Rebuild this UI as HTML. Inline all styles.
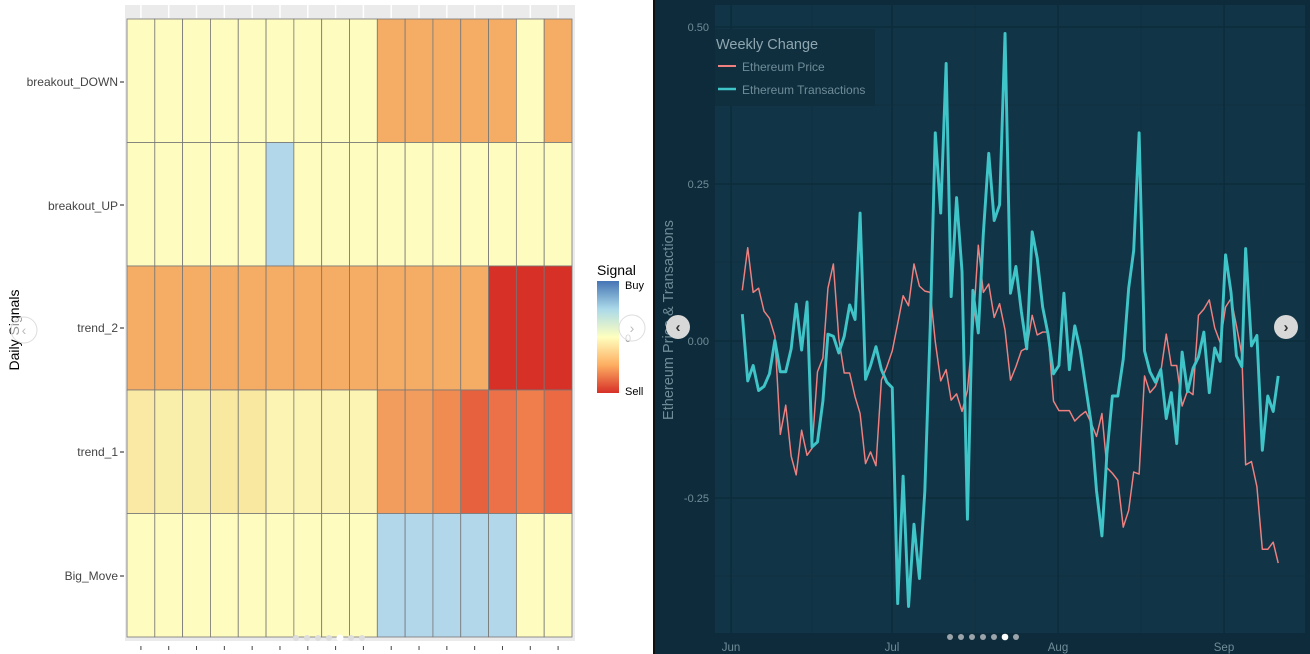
<!DOCTYPE html>
<html><head><meta charset="utf-8"><style>
html,body{margin:0;padding:0;width:1310px;height:654px;overflow:hidden;background:#fff;font-family:"Liberation Sans",sans-serif}
</style></head><body>
<svg width="1310" height="654" viewBox="0 0 1310 654" xmlns="http://www.w3.org/2000/svg" style="position:absolute;left:0;top:0">
<defs>
<linearGradient id="lg" x1="0" y1="0" x2="0" y2="1">
<stop offset="0" stop-color="#4575b4"/><stop offset="0.25" stop-color="#abd9e9"/><stop offset="0.5" stop-color="#ffffbf"/><stop offset="0.75" stop-color="#fdae61"/><stop offset="1" stop-color="#d73027"/>
</linearGradient>
</defs>
<rect x="0" y="0" width="655" height="654" fill="#fff"/>
<rect x="125" y="5" width="450" height="636" fill="#ebebeb"/>
<g id="hm" stroke="#777" stroke-width="0.8"></g>
<g font-size="12" fill="#444" text-anchor="end">
<text x="118" y="86">breakout_DOWN</text>
<text x="118" y="210">breakout_UP</text>
<text x="118" y="332">trend_2</text>
<text x="118" y="456">trend_1</text>
<text x="118" y="580">Big_Move</text>
</g>
<g stroke="#444" stroke-width="1.2">
<line x1="120" y1="82" x2="124" y2="82"/><line x1="120" y1="205" x2="124" y2="205"/><line x1="120" y1="328" x2="124" y2="328"/><line x1="120" y1="452" x2="124" y2="452"/><line x1="120" y1="576" x2="124" y2="576"/>
</g>
<g id="bt" stroke="#444" stroke-width="1"></g>
<text transform="translate(19,330) rotate(-90)" font-size="14" fill="#000" text-anchor="middle">Daily Signals</text>
<text x="597" y="275" font-size="14" fill="#000">Signal</text>
<rect x="597" y="281" width="22" height="112" fill="url(#lg)"/>
<text x="625" y="289" font-size="11" fill="#000">Buy</text>
<text x="625" y="342" font-size="11" fill="#999">0</text>
<text x="625" y="395" font-size="11" fill="#000">Sell</text>
<circle cx="24" cy="330" r="13" fill="#fff" fill-opacity="0.6" stroke="#ddd"/>
<text x="24" y="335" font-size="14" fill="#bbb" text-anchor="middle">‹</text>
<circle cx="632" cy="328" r="13" fill="#fff" fill-opacity="0.6" stroke="#ddd"/>
<text x="632" y="333" font-size="14" fill="#bbb" text-anchor="middle">›</text>
<g fill="#ddd"><circle cx="296" cy="638" r="3"/><circle cx="307" cy="638" r="3"/><circle cx="318" cy="638" r="3"/><circle cx="329" cy="638" r="3"/><circle cx="351" cy="638" r="3"/><circle cx="362" cy="638" r="3"/></g>
<circle cx="340" cy="638" r="3.5" fill="#fff"/>

<rect x="653" y="0" width="2" height="654" fill="#111"/>
<rect x="655" y="0" width="655" height="654" fill="#0d2b3a"/>
<rect x="715" y="5" width="590" height="628" fill="#113546"/>
<g stroke="#0f3040" stroke-width="1">
<line x1="715" y1="105" x2="1305" y2="105"/><line x1="715" y1="262" x2="1305" y2="262"/><line x1="715" y1="419" x2="1305" y2="419"/><line x1="715" y1="576" x2="1305" y2="576"/>
<line x1="812" y1="5" x2="812" y2="633"/><line x1="975" y1="5" x2="975" y2="633"/><line x1="1141" y1="5" x2="1141" y2="633"/>
</g>
<g stroke="#0d2d3c" stroke-width="1.8">
<line x1="715" y1="27" x2="1305" y2="27"/><line x1="715" y1="184" x2="1305" y2="184"/><line x1="715" y1="341" x2="1305" y2="341"/><line x1="715" y1="498" x2="1305" y2="498"/>
<line x1="731" y1="5" x2="731" y2="633"/><line x1="892" y1="5" x2="892" y2="633"/><line x1="1058" y1="5" x2="1058" y2="633"/><line x1="1224" y1="5" x2="1224" y2="633"/>
</g>
<g font-size="11" fill="#6f8c98" text-anchor="end">
<text x="709" y="31">0.50</text><text x="709" y="188">0.25</text><text x="709" y="345">0.00</text><text x="709" y="502">-0.25</text>
</g>
<g font-size="11.5" fill="#6f8c98" text-anchor="middle">
<text x="731" y="651">Jun</text><text x="892" y="651">Jul</text><text x="1058" y="651">Aug</text><text x="1224" y="651">Sep</text>
</g>
<text transform="translate(673,320) rotate(-90)" font-size="14.5" fill="#6f8c98" text-anchor="middle">Ethereum Price &amp; Transactions</text>
<rect x="715" y="29" width="160" height="77" fill="#0f2f3f"/>
<text x="716" y="49" font-size="14.5" fill="#8fa6b0">Weekly Change</text>
<line x1="718" y1="66" x2="736" y2="66" stroke="#f08080" stroke-width="2"/>
<text x="742" y="71" font-size="12" fill="#6f8c98">Ethereum Price</text>
<line x1="718" y1="89" x2="736" y2="89" stroke="#3fc4c8" stroke-width="2.5"/>
<text x="742" y="94" font-size="12" fill="#6f8c98">Ethereum Transactions</text>
<g transform="translate(655,0) scale(0.4177)" fill="none" stroke-linejoin="round">
<polyline stroke="#f08080" stroke-width="3.5" points="209,695 222,593 235,700 248,690 261,745 274,762 287,805 300,1040 313,970 326,1092 338,1137 351,1030 364,1090 376,1073 389,890 402,857 414,690 427,632 440,810 453,893 466,893 479,950 491,990 504,1110 516,1082 529,1115 542,910 555,878 568,840 581,775 594,708 607,732 620,632 633,685 646,697 659,700 671,818 684,912 697,885 709,958 722,943 735,985 748,935 761,790 774,587 786,700 799,680 812,760 825,727 838,790 851,910 864,878 877,840 890,833 903,755 915,802 928,795 941,795 954,960 967,983 979,983 992,983 1005,1008 1018,995 1031,985 1044,1012 1057,1045 1070,990 1082,1120 1095,1133 1108,1150 1121,1262 1134,1222 1146,1130 1159,1135 1172,900 1185,940 1198,925 1211,890 1224,800 1236,875 1249,875 1262,972 1275,935 1288,945 1301,755 1314,740 1327,718 1340,785 1353,820 1366,735 1379,715 1392,780 1405,850 1414,1113 1428,1105 1441,1165 1454,1315 1467,1315 1480,1298 1492,1348"/>
<polyline stroke="#3fc4c8" stroke-width="7" points="209,752 222,912 235,875 248,935 261,925 274,895 287,815 300,890 313,890 326,835 338,728 351,838 364,723 376,1070 389,1058 402,960 414,800 427,805 440,845 453,805 466,730 479,765 491,510 504,908 516,875 529,830 542,885 555,915 568,928 581,1445 594,1140 607,1452 620,1255 633,1385 646,1175 659,780 671,318 684,510 697,152 709,710 722,473 735,650 748,1243 761,695 774,797 786,560 799,367 812,528 825,490 838,80 851,702 864,638 877,745 890,835 903,555 915,618 928,735 941,800 954,895 967,875 979,702 992,885 1005,780 1018,838 1031,925 1044,1012 1057,1175 1070,1283 1082,1085 1095,948 1108,948 1121,860 1134,690 1146,600 1159,318 1172,840 1185,890 1198,915 1211,885 1224,1002 1236,940 1249,1062 1262,843 1275,938 1288,882 1301,855 1314,795 1327,940 1340,833 1353,865 1366,610 1379,700 1392,852 1405,878 1414,595 1428,828 1441,803 1454,1078 1467,948 1480,985 1492,900"/>
</g>
<circle cx="678" cy="327" r="12" fill="#d8d8d8"/>
<text x="678" y="332" font-size="15" font-weight="bold" fill="#333" text-anchor="middle">‹</text>
<circle cx="1286" cy="327" r="12" fill="#d8d8d8"/>
<text x="1286" y="332" font-size="15" font-weight="bold" fill="#333" text-anchor="middle">›</text>
<g fill="#9aa4aa"><circle cx="950" cy="637" r="3"/><circle cx="961" cy="637" r="3"/><circle cx="972" cy="637" r="3"/><circle cx="983" cy="637" r="3"/><circle cx="994" cy="637" r="3"/><circle cx="1016" cy="637" r="3"/></g>
<circle cx="1005" cy="637" r="3.3" fill="#fff"/>
</svg>
<script>
(function(){
var Y="#fefcbf",O="#f5ad66",B="#b3d7ea",R="#d73027";
var rows=[
[Y,Y,Y,Y,Y,Y,Y,Y,Y,O,O,O,O,O,Y,O],
[Y,Y,Y,Y,Y,B,Y,Y,Y,Y,Y,Y,Y,Y,Y,Y],
[O,O,O,O,O,O,O,O,O,O,O,O,O,R,R,R],
["#f9e9a4","#faefaa","#faefaa","#f9e8a0","#f9e8a0","#fcf4b3","#fcf4b3","#fcf4b3","#fcf4b3","#f29d5e","#f29d5e","#f08b52","#e8613f","#ec7048","#ef7e4c","#eb6a44"],
[Y,Y,Y,Y,Y,Y,Y,Y,Y,B,B,B,B,B,Y,Y]];
var ys=[19,142.5,266,390,513.5,637];
var x0=127,w=(572-127)/16;
var g=document.getElementById('hm'),s="";
for(var c=0;c<16;c++){var cx=x0+w*c+w/2;s+='<line x1="'+cx+'" y1="5" x2="'+cx+'" y2="18" stroke="#fff" stroke-width="1.5"/>';}
for(var r=0;r<5;r++)for(var c=0;c<16;c++){s+='<rect x="'+(x0+w*c)+'" y="'+ys[r]+'" width="'+w+'" height="'+(ys[r+1]-ys[r])+'" fill="'+rows[r][c]+'"/>';}
g.innerHTML=s;
var b="";for(var c=0;c<16;c++){var cx=x0+w*c+w/2;b+='<line x1="'+cx+'" y1="646" x2="'+cx+'" y2="650"/>';}
document.getElementById('bt').innerHTML=b;
})();
</script>
</body></html>
